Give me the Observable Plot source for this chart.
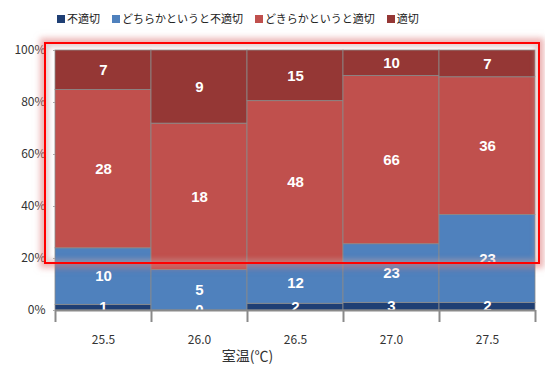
<!DOCTYPE html>
<html><head><meta charset="utf-8">
<script src="https://cdn.jsdelivr.net/npm/d3@7"></script>
<script src="https://cdn.jsdelivr.net/npm/@observablehq/plot@0.6"></script>
<style>
body{margin:0;background:#fff;font-family:"Noto Sans CJK JP","Noto Sans",sans-serif;}
#wrap{position:relative;width:545px;height:370px;}
#legend{position:absolute;left:57px;top:10px;font-size:11px;color:#222;display:flex;gap:12px;white-space:nowrap;}
#legend span.sw{display:inline-block;width:8px;height:8px;margin-right:2px;vertical-align:0px;}
#chart{position:absolute;left:0;top:30px;}
#hl{position:absolute;left:44px;top:42px;width:492px;height:218px;border:2px solid #ff0000;box-shadow:0 0 6px 4px rgba(220,120,120,0.55), inset 0 0 5px 3px rgba(200,160,160,0.5);pointer-events:none;}
</style></head>
<body><div id="wrap"><div id="legend"></div><div id="chart"></div><div id="hl"></div></div>
<script>
const categories = ["25.5","26.0","26.5","27.0","27.5"];
const seriesNames = ["不適切","どちらかというと不適切","どきらかというと適切","適切"];
const s1 = [1,0,2,3,2];
const s2 = [10,5,12,23,23];
const s3 = [28,18,48,66,36];
const s4 = [7,9,15,10,7];
const colors = ["#1f3f74","#4f81bd","#c0504d","#953735"];
const yTicks = [0,20,40,60,80,100];
const xTitle = "室温(℃)";

const all = [s1,s2,s3,s4];
const data = [];
categories.forEach((c,i)=>{
  const total = all.reduce((a,s)=>a+s[i],0);
  all.forEach((s,k)=>data.push({cat:c, series:seriesNames[k], value:s[i], pct:100*s[i]/total}));
});

const leg = document.getElementById("legend");
seriesNames.forEach((n,k)=>{
  const d=document.createElement("div");
  d.innerHTML=`<span class="sw" style="background:${colors[k]}"></span>${n}`;
  leg.appendChild(d);
});

const stackOpts = {x:"cat", y:"pct", z:"series", order: seriesNames};
const chart = Plot.plot({
  width:545, height:340,
  marginLeft:55, marginRight:10, marginTop:20, marginBottom:60,
  style:{fontFamily:"Noto Sans CJK JP, Noto Sans, sans-serif", fontSize:"11px", color:"#333"},
  x:{domain:categories, padding:0, label:null},
  y:{domain:[0,100], label:null},
  color:{domain:seriesNames, range:colors},
  marks:[
    Plot.barY(data, Plot.stackY({...stackOpts, fill:"series", stroke:"#8a8a8a", strokeWidth:0.8})),
    Plot.text(data, Plot.stackY({...stackOpts, text:"value", fill:"white", fontWeight:"bold", fontSize:15, fontFamily:"Liberation Sans, Arial, sans-serif"})),
    Plot.ruleY([0], {stroke:"#8a8a8a", strokeWidth:2}),
    Plot.ruleX(categories, {x:d=>d, y1:0, y2:0, insetBottom:-12, dx:-48, stroke:"#8a8a8a", strokeWidth:2}),
    Plot.ruleX([categories[categories.length-1]], {x:d=>d, y1:0, y2:0, insetBottom:-12, dx:48, stroke:"#8a8a8a", strokeWidth:2}),
    Plot.axisX({tickSize:0, tickPadding:25, fontSize:12, color:"#333"}),
    Plot.axisY({ticks:yTicks, tickFormat:d=>d+"%", tickSize:2, tickPadding:8, fontSize:12, color:"#333", stroke:"#aaa"}),
    Plot.text([xTitle], {frameAnchor:"bottom", dy:50, dx:-48, fontSize:14, fill:"#333"})
  ]
});
document.getElementById("chart").appendChild(chart);
</script></body></html>
